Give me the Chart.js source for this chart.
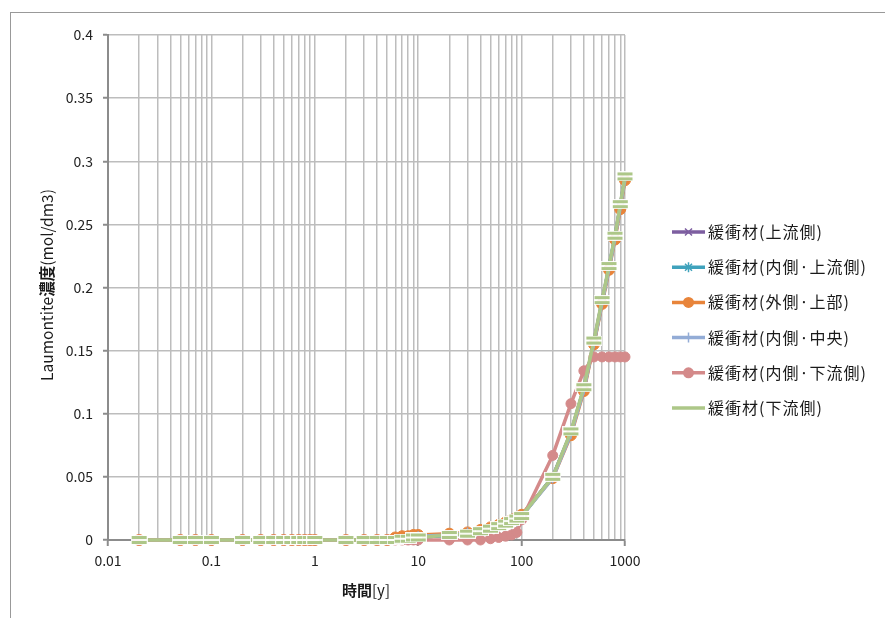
<!DOCTYPE html>
<html>
<head>
<meta charset="utf-8">
<script src="https://cdn.jsdelivr.net/npm/chart.js@4.4.0/dist/chart.umd.min.js"></script>
<style>
  html, body { margin: 0; padding: 0; background: #fff; overflow: hidden; }
  #frame { position: absolute; left: 10px; top: 12px; width: 900px; height: 700px; border: 1.5px solid #999; }
  #wrap { position: absolute; left: 0; top: 0; width: 885px; height: 618px; }
</style>
</head>
<body>
<div id="frame"></div>
<div id="wrap"><canvas id="chart" width="885" height="618"></canvas></div>
<script>
const FONT = '"Noto Sans CJK JP", "Noto Sans", sans-serif';

// time [y]
const years = [0.02, 0.05, 0.07, 0.1, 0.2, 0.3, 0.4, 0.5, 0.6, 0.7, 0.8, 0.9,
  1, 2, 3, 4, 5, 6, 7, 8, 9,
  10, 20, 30, 40, 50, 60, 70, 80, 90,
  100, 200, 300, 400, 500, 600, 700, 800, 900, 1000];

const seriesNames = ['緩衝材(上流側)', '緩衝材(内側·上流側)', '緩衝材(外側·上部)',
  '緩衝材(内側·中央)', '緩衝材(内側·下流側)', '緩衝材(下流側)'];

const upstream = [0,0,0,0,0,0,0,0,0,0,0,0, 0,0,0,0,0,0,0,0,0,
  0.002,0.004,0.005,0.007,0.009,0.011,0.013,0.015,0.017,
  0.019,0.050,0.085,0.120,0.157,0.189,0.216,0.240,0.265,0.287];
const innerUpstream = [0,0,0,0,0,0,0,0,0,0,0,0, 0,0,0,0,0,0,0,0,0,
  0.002,0.004,0.005,0.007,0.009,0.011,0.013,0.015,0.017,
  0.019,0.050,0.085,0.120,0.156,0.188,0.216,0.240,0.264,0.287];
const outerTop = [0,0,0,0,0,0,0,0,0,0,0,0, 0,0,0,0,0,0.002,0.003,0.003,0.004,
  0.004,0.005,0.006,0.008,0.010,0.012,0.014,0.016,0.018,
  0.020,0.049,0.083,0.118,0.155,0.187,0.214,0.238,0.262,0.285];
const innerCenter = [0,0,0,0,0,0,0,0,0,0,0,0, 0,0,0,0,0,0,0,0,0,
  0.003,0.004,0.006,0.007,0.009,0.011,0.013,0.015,0.017,
  0.019,0.049,0.084,0.119,0.156,0.188,0.215,0.239,0.264,0.286];
const innerDownstream = [0,0,0,0,0,0,0,0,0,0,0,0, 0,0,0,0,0,0,0,0,0,
  0,0,0,0,0.001,0.002,0.003,0.004,0.006,
  0.016,0.067,0.108,0.134,0.145,0.145,0.145,0.145,0.145,0.145];
const downstream = [0,0,0,0,0,0,0,0,0,0,0,0, 0,0,0,0,0,0,0.001,0.001,0.002,
  0.002,0.004,0.005,0.007,0.009,0.011,0.013,0.015,0.017,
  0.019,0.050,0.086,0.121,0.158,0.190,0.217,0.241,0.266,0.288];

const yTicks = [0, 0.05, 0.1, 0.15, 0.2, 0.25, 0.3, 0.35, 0.4];
const xDecades = [0.01, 0.1, 1, 10, 100, 1000];

const colors = ['#7d5ea0', '#3fa2bc', '#e8843a', '#93acd6', '#d48a8a', '#adc788'];

// dash-like marker for the last series (green band, white stripe)
function dashMarker(color) {
  const c = document.createElement('canvas');
  c.width = 17; c.height = 10;
  const g = c.getContext('2d');
  g.fillStyle = 'rgba(255,255,255,0.9)';
  g.fillRect(0, 0, 17, 10);
  g.fillStyle = color;
  g.fillRect(1, 1, 15, 3);
  g.fillRect(1, 6, 15, 3);
  return c;
}

const allValues = [upstream, innerUpstream, outerTop, innerCenter, innerDownstream, downstream];
const markers = [
  { pointStyle: 'crossRot', pointRadius: 5, pointBorderWidth: 1.5 },
  { pointStyle: 'star', pointRadius: 5, pointBorderWidth: 1.5 },
  { pointStyle: 'circle', pointRadius: 5.5, pointBorderWidth: 1 },
  { pointStyle: 'cross', pointRadius: 5, pointBorderWidth: 1.5 },
  { pointStyle: 'circle', pointRadius: 5, pointBorderWidth: 1 },
  { pointStyle: dashMarker(colors[5]), pointRadius: 6, pointBorderWidth: 0 }
];

const datasets = allValues.map((vals, i) => ({
  label: seriesNames[i],
  data: years.map((x, j) => ({ x: x, y: vals[j] })),
  borderColor: colors[i],
  backgroundColor: colors[i],
  pointBackgroundColor: colors[i],
  pointBorderColor: colors[i],
  borderWidth: 3.5,
  tension: 0,
  clip: false,
  order: 6 - i,
  ...markers[i]
}));

function isDecade(v) {
  const l = Math.log10(v);
  return Math.abs(l - Math.round(l)) < 1e-9;
}

function drawParts(ctx, parts, cx, cy) {
  let total = 0;
  parts.forEach(p => { ctx.font = p[1]; total += ctx.measureText(p[0]).width; });
  let x = cx - total / 2;
  ctx.textAlign = 'left';
  parts.forEach(p => {
    ctx.font = p[1];
    ctx.fillText(p[0], x, cy);
    x += ctx.measureText(p[0]).width;
  });
}

const axisTitles = {
  id: 'axisTitles',
  afterDraw(chart) {
    const ctx = chart.ctx;
    ctx.save();
    ctx.fillStyle = '#1a1a1a';
    ctx.textBaseline = 'middle';
    drawParts(ctx, [['時間', 'bold 15px ' + FONT], ['[y]', '15px ' + FONT]], 366, 590);
    ctx.translate(47, 285);
    ctx.rotate(-Math.PI / 2);
    drawParts(ctx, [['Laumontite', '15.5px ' + FONT], ['濃度', 'bold 15.5px ' + FONT], ['(mol/dm3)', '15.5px ' + FONT]], 0, 0);
    ctx.restore();
  }
};

function legendMarker(ctx, style, color, x, y) {
  ctx.strokeStyle = color;
  ctx.fillStyle = color;
  ctx.lineWidth = 1.5;
  const r = 5;
  ctx.beginPath();
  if (style === 'circle') {
    ctx.arc(x, y, 5.5, 0, Math.PI * 2);
    ctx.fill();
    return;
  }
  if (style === 'crossRot' || style === 'star') {
    ctx.moveTo(x - r * 0.7, y - r * 0.7); ctx.lineTo(x + r * 0.7, y + r * 0.7);
    ctx.moveTo(x - r * 0.7, y + r * 0.7); ctx.lineTo(x + r * 0.7, y - r * 0.7);
  }
  if (style === 'cross' || style === 'star') {
    ctx.moveTo(x, y - r); ctx.lineTo(x, y + r);
    if (style === 'cross') { ctx.moveTo(x - r, y); ctx.lineTo(x + r, y); }
  }
  ctx.stroke();
}

const sideLegend = {
  id: 'sideLegend',
  afterDraw(chart) {
    const ctx = chart.ctx;
    ctx.save();
    chart.data.datasets.forEach((ds, i) => {
      const y = 232 + i * 35.2;
      ctx.strokeStyle = ds.borderColor;
      ctx.lineWidth = 3.5;
      ctx.beginPath();
      ctx.moveTo(672, y);
      ctx.lineTo(705, y);
      ctx.stroke();
      if (typeof ds.pointStyle === 'string') {
        legendMarker(ctx, ds.pointStyle, ds.borderColor, 688.5, y);
      }
      ctx.fillStyle = '#1a1a1a';
      ctx.font = '16px ' + FONT;
      ctx.letterSpacing = '1px';
      ctx.textAlign = 'left';
      ctx.textBaseline = 'middle';
      ctx.fillText(ds.label, 708, y);
      ctx.letterSpacing = '0px';
    });
    ctx.restore();
  }
};

new Chart(document.getElementById('chart'), {
  type: 'line',
  data: { datasets: datasets },
  options: {
    responsive: false,
    animation: false,
    layout: { padding: { left: 0, top: 35, right: 260, bottom: 0 } },
    plugins: { legend: { display: false }, tooltip: { enabled: false } },
    scales: {
      x: {
        type: 'logarithmic',
        min: 0.01,
        max: 1000,
        afterBuildTicks(scale) {
          const ticks = [];
          xDecades.forEach((d, k) => {
            ticks.push({ value: d });
            if (k < xDecades.length - 1) {
              for (let m = 2; m <= 9; m++) ticks.push({ value: +(d * m).toPrecision(6) });
            }
          });
          scale.ticks = ticks;
        },
        afterFit(scale) { scale.height = 78; },
        ticks: {
          autoSkip: false,
          maxRotation: 0,
          padding: 6,
          color: '#222',
          font: { size: 14, family: FONT },
          callback: v => isDecade(v) ? String(+v.toPrecision(6)) : ''
        },
        grid: {
          color: '#bdbdbd',
          lineWidth: 1.5,
          drawTicks: true,
          tickLength: 6,
          tickWidth: 2,
          tickColor: c => (c.tick && isDecade(c.tick.value)) ? '#8c8c8c' : 'rgba(0,0,0,0)'
        },
        border: { color: '#8c8c8c', width: 2 }
      },
      y: {
        min: 0,
        max: 0.4,
        afterBuildTicks(scale) { scale.ticks = yTicks.map(v => ({ value: v })); },
        afterFit(scale) { scale.width = 108; },
        ticks: {
          padding: 10,
          color: '#222',
          font: { size: 14, family: FONT },
          callback: v => String(+v.toFixed(2))
        },
        grid: {
          color: '#bdbdbd',
          lineWidth: 1.5,
          drawTicks: true,
          tickLength: 5,
          tickWidth: 2,
          tickColor: '#8c8c8c'
        },
        border: { color: '#8c8c8c', width: 2 }
      }
    }
  },
  plugins: [axisTitles, sideLegend]
});
</script>
</body>
</html>
